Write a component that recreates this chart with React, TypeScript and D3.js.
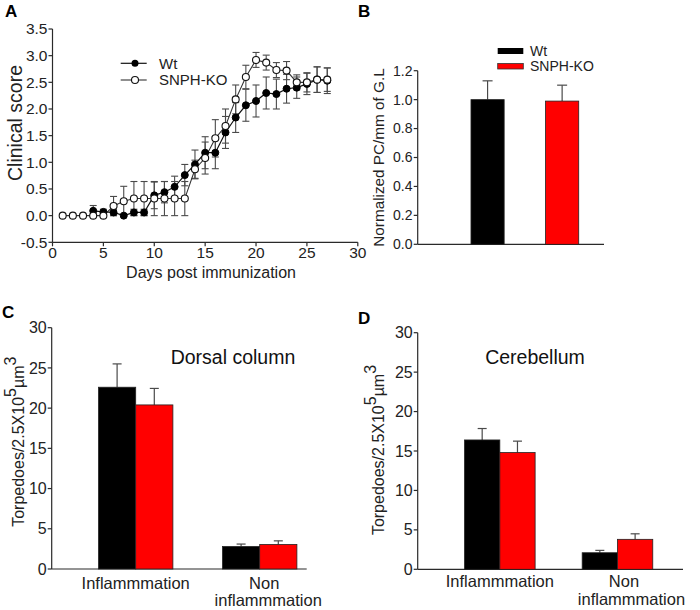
import React from "react";
import * as d3 from "d3";

// ---------- Data ----------
// Panel A: clinical score
const koDays = [1, 2, 3, 4, 5, 6, 7, 8, 9, 10, 11, 12, 13, 14, 15, 16, 17, 18, 19, 20, 21, 22, 23, 24, 25, 26, 27];
const koScore = [0, 0, 0, 0, 0, 0.18, 0.27, 0.32, 0.32, 0.32, 0.32, 0.32, 0.32, 0.87, 1.08, 1.45, 1.68, 2.18, 2.6, 2.92, 2.87, 2.73, 2.72, 2.5, 2.5, 2.55, 2.55];
const koSem = [0, 0, 0, 0, 0, 0.18, 0.28, 0.32, 0.32, 0.32, 0.32, 0.32, 0.32, 0.17, 0.3, 0.35, 0.32, 0.27, 0.22, 0.14, 0.14, 0.14, 0.17, 0.14, 0.18, 0.24, 0.22];
const wtDays = [4, 5, 6, 7, 8, 9, 10, 11, 12, 13, 14, 15, 16, 17, 18, 19, 20, 21, 22, 23, 24, 25, 26, 27];
const wtScore = [0.09, 0.07, 0.06, 0.0, 0.06, 0.06, 0.38, 0.44, 0.54, 0.76, 0.96, 1.18, 1.18, 1.56, 1.84, 2.07, 2.15, 2.3, 2.28, 2.38, 2.4, 2.47, 2.55, 2.53];
const wtSem = [0.1, 0.05, 0.06, 0, 0.06, 0.06, 0.25, 0.2, 0.2, 0.2, 0.27, 0.3, 0.3, 0.3, 0.28, 0.3, 0.3, 0.3, 0.28, 0.27, 0.2, 0.2, 0.24, 0.24];
const xTicksA = [0, 5, 10, 15, 20, 25, 30];
const yTicksA = [-0.5, 0, 0.5, 1, 1.5, 2, 2.5, 3, 3.5];

// Panel B: normalized PC
const groupsB = ["Wt", "SNPH-KO"];
const valuesB = [1.0, 0.99];
const semB = [0.13, 0.11];
const yTicksB = [0, 0.2, 0.4, 0.6, 0.8, 1.0, 1.2];

// Panels C and D: torpedoes
const categoriesCD = ["Inflammmation", "Non inflammmation"];
const dorsalWt = [22.6, 2.8];
const dorsalWtSem = [2.9, 0.3];
const dorsalKo = [20.4, 3.05];
const dorsalKoSem = [2.05, 0.45];
const cerebWt = [16.4, 2.1];
const cerebWtSem = [1.45, 0.3];
const cerebKo = [14.8, 3.8];
const cerebKoSem = [1.45, 0.7];
const yTicksCD = [0, 5, 10, 15, 20, 25, 30];

const FONT = "'Liberation Sans', Arial, Helvetica, sans-serif";
const AX = "#2a2a2a";
const ERR = "#4a4a4a";
const RED = "#ff0000";

function PanelA() {
  const x = d3.scaleLinear().domain([0, 30]).range([52.5, 357.8]);
  const y = d3.scaleLinear().domain([-0.5, 3.5]).range([242.3, 29]);
  const line = d3.line<[number, number]>().x((d) => x(d[0])).y((d) => y(d[1]));
  const wt: [number, number][] = wtDays.map((d, i) => [d, wtScore[i]]);
  const ko: [number, number][] = koDays.map((d, i) => [d, koScore[i]]);
  const cap = 3.5;
  const errBars = (days: number[], vals: number[], sems: number[], key: string) =>
    days.map((d, i) =>
      sems[i] > 0 ? (
        <g key={key + i} stroke={ERR} strokeWidth={1.1}>
          <line x1={x(d)} x2={x(d)} y1={y(vals[i] - sems[i])} y2={y(vals[i] + sems[i])} />
          <line x1={x(d) - cap} x2={x(d) + cap} y1={y(vals[i] + sems[i])} y2={y(vals[i] + sems[i])} />
          <line x1={x(d) - cap} x2={x(d) + cap} y1={y(vals[i] - sems[i])} y2={y(vals[i] - sems[i])} />
        </g>
      ) : null
    );
  return (
    <g fontFamily={FONT}>
      <text x={5} y={17} fontSize={17} fontWeight="bold">A</text>
      {/* axes */}
      <line x1={x(0)} x2={x(0)} y1={y(-0.5)} y2={y(3.5)} stroke={AX} strokeWidth={1.2} />
      <line x1={x(0)} x2={x(30)} y1={y(-0.5)} y2={y(-0.5)} stroke={AX} strokeWidth={1.2} />
      {yTicksA.map((t) => (
        <g key={"ya" + t}>
          <line x1={x(0) - 4} x2={x(0)} y1={y(t)} y2={y(t)} stroke={AX} strokeWidth={1.2} />
          <text x={x(0) - 5} y={y(t)} dy="0.35em" textAnchor="end" fontSize={15.5} fill="#222">
            {t.toFixed(1)}
          </text>
        </g>
      ))}
      {xTicksA.map((t) => (
        <g key={"xa" + t}>
          <line x1={x(t)} x2={x(t)} y1={y(-0.5)} y2={y(-0.5) + 4} stroke={AX} strokeWidth={1.2} />
          <text x={x(t)} y={258} textAnchor="middle" fontSize={15.5} fill="#222">{t}</text>
        </g>
      ))}
      <text x={211} y={277.5} textAnchor="middle" fontSize={16} fill="#222">Days post immunization</text>
      <text transform="translate(22,123) rotate(-90)" textAnchor="middle" fontSize={19.5} fill="#222">Clinical score</text>
      {/* error bars */}
      {errBars(wtDays, wtScore, wtSem, "we")}
      {errBars(koDays, koScore, koSem, "ke")}
      {/* lines */}
      <path d={line(wt) || ""} fill="none" stroke="#111" strokeWidth={1.2} />
      <path d={line(ko) || ""} fill="none" stroke="#333" strokeWidth={1.1} />
      {wt.map((d, i) => (
        <circle key={"wc" + i} cx={x(d[0])} cy={y(d[1])} r={3.5} fill="#000" stroke="#000" strokeWidth={1} />
      ))}
      {ko.map((d, i) => (
        <circle key={"kc" + i} cx={x(d[0])} cy={y(d[1])} r={3.5} fill="#fff" stroke="#111" strokeWidth={1.1} />
      ))}
      {/* legend */}
      <line x1={120.7} x2={146.7} y1={63.3} y2={63.3} stroke="#111" strokeWidth={1.2} />
      <circle cx={135} cy={63.3} r={3.5} fill="#000" />
      <text x={159} y={63.3} dy="0.35em" fontSize={15} fill="#222">Wt</text>
      <line x1={120.7} x2={146.7} y1={80} y2={80} stroke="#333" strokeWidth={1.1} />
      <circle cx={135} cy={80} r={3.5} fill="#fff" stroke="#111" strokeWidth={1.1} />
      <text x={159} y={80} dy="0.35em" fontSize={15} fill="#222">SNPH-KO</text>
    </g>
  );
}

function PanelB() {
  const y = d3.scaleLinear().domain([0, 1.2]).range([244.3, 70.7]);
  const x = d3.scaleBand().domain(groupsB).range([433.7, 616]).paddingInner(0.555).paddingOuter(0.5);
  const fills = ["#000", RED];
  const cap = 5;
  return (
    <g fontFamily={FONT}>
      <text x={358} y={17} fontSize={17} fontWeight="bold">B</text>
      <line x1={417.7} x2={417.7} y1={y(0)} y2={y(1.2)} stroke={AX} strokeWidth={1.2} />
      <line x1={417.7} x2={604} y1={y(0)} y2={y(0)} stroke={AX} strokeWidth={1.2} />
      {yTicksB.map((t) => (
        <g key={"yb" + t}>
          <line x1={413.7} x2={417.7} y1={y(t)} y2={y(t)} stroke={AX} strokeWidth={1.2} />
          <text x={412.5} y={y(t)} dy="0.35em" textAnchor="end" fontSize={14} fill="#222">
            {t.toFixed(1)}
          </text>
        </g>
      ))}
      <text transform="translate(384,157.5) rotate(-90)" textAnchor="middle" fontSize={15.3} fill="#222">
        Normalized PC/mm of G.L
      </text>
      {groupsB.map((g, i) => {
        const cx = (x(g) || 0) + x.bandwidth() / 2;
        return (
          <g key={"bb" + g}>
            <line x1={cx} x2={cx} y1={y(valuesB[i])} y2={y(valuesB[i] + semB[i])} stroke={ERR} strokeWidth={1.2} />
            <line x1={cx - cap} x2={cx + cap} y1={y(valuesB[i] + semB[i])} y2={y(valuesB[i] + semB[i])} stroke={ERR} strokeWidth={1.2} />
            <rect x={x(g)} y={y(valuesB[i])} width={x.bandwidth()} height={y(0) - y(valuesB[i])} fill={fills[i]} stroke="#222" strokeWidth={0.8} />
          </g>
        );
      })}
      {/* legend */}
      <rect x={497.7} y={48} width={25.6} height={6} fill="#000" />
      <text x={530} y={51} dy="0.35em" fontSize={14} fill="#222">Wt</text>
      <rect x={497.7} y={63.5} width={25.6} height={5.5} fill={RED} stroke="#333" strokeWidth={0.8} />
      <text x={530} y={66.5} dy="0.35em" fontSize={14} fill="#222">SNPH-KO</text>
    </g>
  );
}

type BarProps = {
  letter: string;
  letterX: number;
  letterY: number;
  title: string;
  titleX: number;
  axisX: number;
  axisEnd: number;
  yTop: number;
  yBottom: number;
  bandRange: [number, number];
  wt: number[];
  wtSem: number[];
  ko: number[];
  koSem: number[];
  labelX: number;
  labelY: number;
  nonDx: number[];
  catY: number[];
};

function PanelTorpedo(p: BarProps) {
  const y = d3.scaleLinear().domain([0, 30]).range([p.yBottom, p.yTop]);
  const x = d3.scaleBand().domain(categoriesCD).range(p.bandRange).paddingInner(0.4).paddingOuter(0.2);
  const half = x.bandwidth() / 2;
  const cap = 4.5;
  const bar = (cat: string, i: number, vals: number[], sems: number[], offset: number, fill: string) => {
    const bx = (x(cat) || 0) + offset;
    const cx = bx + half / 2;
    return (
      <g key={fill + cat}>
        <line x1={cx} x2={cx} y1={y(vals[i])} y2={y(vals[i] + sems[i])} stroke={ERR} strokeWidth={1.2} />
        <line x1={cx - cap} x2={cx + cap} y1={y(vals[i] + sems[i])} y2={y(vals[i] + sems[i])} stroke={ERR} strokeWidth={1.2} />
        <rect x={bx} y={y(vals[i])} width={half} height={y(0) - y(vals[i])} fill={fill} stroke="#222" strokeWidth={0.8} />
      </g>
    );
  };
  return (
    <g fontFamily={FONT}>
      <text x={p.letterX} y={p.letterY} fontSize={17} fontWeight="bold">{p.letter}</text>
      <line x1={p.axisX} x2={p.axisX} y1={y(0)} y2={y(30)} stroke={AX} strokeWidth={1.2} />
      <line x1={p.axisX} x2={p.axisEnd} y1={y(0)} y2={y(0)} stroke={AX} strokeWidth={1.2} />
      {yTicksCD.map((t) => (
        <g key={p.letter + "y" + t}>
          <line x1={p.axisX - 4} x2={p.axisX} y1={y(t)} y2={y(t)} stroke={AX} strokeWidth={1.2} />
          <text x={p.axisX - 5} y={y(t)} dy="0.35em" textAnchor="end" fontSize={16} fill="#222">{t}</text>
        </g>
      ))}
      <text x={p.titleX} y={363.5} textAnchor="middle" fontSize={19.5} fill="#111">{p.title}</text>
      <text transform={`translate(${p.labelX},${p.labelY}) rotate(-90)`} textAnchor="middle" fontSize={16} fill="#222">
        Torpedoes/2.5X10<tspan dy={-8}>5</tspan><tspan dy={8}>µm</tspan><tspan dy={-8}>3</tspan>
      </text>
      {categoriesCD.map((c, i) => (
        <g key={p.letter + c}>
          {bar(c, i, p.wt, p.wtSem, 0, "#000")}
          {bar(c, i, p.ko, p.koSem, half, RED)}
        </g>
      ))}
      {(() => {
        const c0 = (x(categoriesCD[0]) || 0) + half;
        const c1 = (x(categoriesCD[1]) || 0) + half;
        const parts = categoriesCD[1].split(" ");
        return (
          <g fontSize={16.5} fill="#222" textAnchor="middle">
            <text x={c0} y={p.catY[0]}>{categoriesCD[0]}</text>
            <text x={c1 + p.nonDx[0]} y={p.catY[0]}>{parts[0]}</text>
            <text x={c1 + p.nonDx[1]} y={p.catY[1]}>{parts[1]}</text>
          </g>
        );
      })()}
    </g>
  );
}

export default function App() {
  return (
    <svg
      width={700}
      height={610}
      viewBox="0 0 700 610"
      style={{ position: "absolute", left: 0, top: 0, background: "#fff" }}
    >
      <rect x={0} y={0} width={700} height={610} fill="#fff" />
      <PanelA />
      <PanelB />
      <PanelTorpedo
        letter="C"
        letterX={2}
        letterY={318}
        title="Dorsal column"
        titleX={233}
        axisX={51.7}
        axisEnd={306.7}
        yTop={327.7}
        yBottom={569}
        bandRange={[73.7, 321.7]}
        wt={dorsalWt}
        wtSem={dorsalWtSem}
        ko={dorsalKo}
        koSem={dorsalKoSem}
        labelX={24}
        labelY={441.7}
        nonDx={[4.5, 8.5]}
        catY={[588.5, 606]}
      />
      <PanelTorpedo
        letter="D"
        letterX={358}
        letterY={324}
        title="Cerebellum"
        titleX={535}
        axisX={417.7}
        axisEnd={683}
        yTop={332.7}
        yBottom={569.3}
        bandRange={[441, 676.3]}
        wt={cerebWt}
        wtSem={cerebWtSem}
        ko={cerebKo}
        koSem={cerebKoSem}
        labelX={384}
        labelY={450}
        nonDx={[6.5, 14]}
        catY={[587, 604.5]}
      />
    </svg>
  );
}
